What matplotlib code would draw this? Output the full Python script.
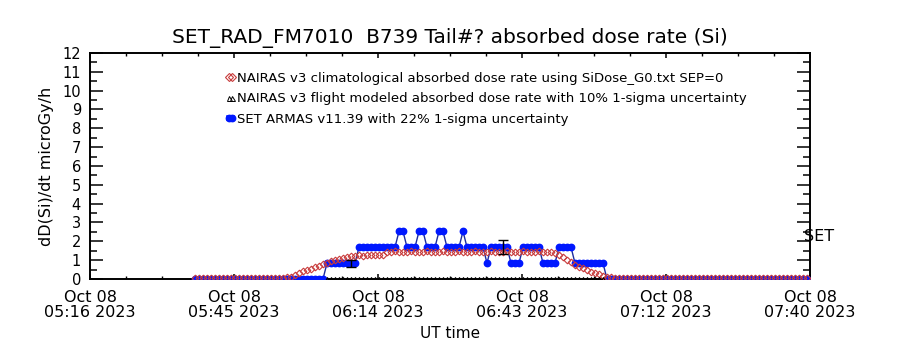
import numpy as np
import matplotlib
matplotlib.use("Agg")
import matplotlib.pyplot as plt
from matplotlib.lines import Line2D
from matplotlib.ticker import FixedLocator, MultipleLocator

plt.rcParams["font.family"] = ["DejaVu Sans"]

# ---------------- data ----------------
title = "SET_RAD_FM7010  B739 Tail#? absorbed dose rate (Si)"
ylabel = "dD(Si)/dt microGy/h"
xlabel = "UT time"
xtick_labels = ["Oct 08\n05:16 2023", "Oct 08\n05:45 2023", "Oct 08\n06:14 2023",
                "Oct 08\n06:43 2023", "Oct 08\n07:12 2023", "Oct 08\n07:40 2023"]
x_span_min = 144.0          # minutes shown after 05:16 UT
start_min = 21.0            # first sample, minutes after 05:16 UT
step_min = 0.8              # sample cadence (minutes)

legend_labels = [
    "NAIRAS v3 climatological absorbed dose rate using SiDose_G0.txt SEP=0",
    "NAIRAS v3 flight modeled absorbed dose rate with 10% 1-sigma uncertainty",
    "SET ARMAS v11.39 with 22% 1-sigma uncertainty",
]

armas = [
    0, 0, 0, 0, 0, 0, 0, 0, 0, 0, 0,
    0, 0, 0, 0, 0, 0, 0, 0, 0, 0, 0,
    0, 0, 0, 0, 0, 0, 0, 0, 0, 0, 0,
    0.84, 0.84, 0.84, 0.84, 0.84, 0.84, 0.84, 0.84,
    1.69, 1.69, 1.69, 1.69, 1.69, 1.69, 1.69, 1.69, 1.69, 1.69,
    2.53, 2.53,
    1.69, 1.69, 1.69,
    2.53, 2.53,
    1.69, 1.69, 1.69,
    2.53, 2.53,
    1.69, 1.69, 1.69, 1.69,
    2.53,
    1.69, 1.69, 1.69, 1.69, 1.69,
    0.84,
    1.69, 1.69, 1.69, 1.69, 1.69,
    0.84, 0.84, 0.84,
    1.69, 1.69, 1.69, 1.69, 1.69,
    0.84, 0.84, 0.84, 0.84,
    1.69, 1.69, 1.69, 1.69,
    0.84, 0.84, 0.84, 0.84, 0.84, 0.84, 0.84, 0.84,
    0, 0, 0, 0, 0, 0, 0, 0, 0, 0,
    0, 0, 0, 0, 0, 0, 0, 0, 0, 0,
    0, 0, 0, 0, 0, 0, 0, 0, 0, 0,
    0, 0, 0, 0, 0, 0, 0, 0, 0, 0,
    0, 0, 0, 0, 0, 0, 0, 0, 0, 0,
    0,
]

nairas_clim = [
    0.05, 0.05, 0.05, 0.05, 0.05, 0.05, 0.05, 0.05, 0.05, 0.05, 0.05, 0.05,
    0.05, 0.05, 0.05, 0.05, 0.05, 0.05, 0.05, 0.05, 0.05, 0.05, 0.06, 0.08,
    0.12, 0.20, 0.30, 0.40, 0.48, 0.55, 0.62, 0.70, 0.78, 0.85, 0.93, 1.00,
    1.08, 1.13, 1.18, 1.22,
    1.24, 1.25, 1.24, 1.25, 1.26, 1.25, 1.27, 1.30,
    1.44, 1.45, 1.46, 1.45, 1.44, 1.45, 1.46, 1.45, 1.44, 1.45, 1.46,
    1.45, 1.44, 1.45, 1.46, 1.45, 1.44, 1.45, 1.46, 1.45, 1.44, 1.45,
    1.46, 1.45, 1.44, 1.45, 1.46, 1.45, 1.44, 1.45, 1.46, 1.45, 1.44,
    1.45, 1.46, 1.45, 1.44, 1.45, 1.46, 1.45, 1.44, 1.42, 1.40,
    1.30, 1.15, 1.00, 0.88, 0.76, 0.66, 0.56, 0.47, 0.38, 0.30, 0.24,
    0.18, 0.12,
    0.08, 0.06, 0.05, 0.05, 0.05, 0.05, 0.05, 0.05, 0.05, 0.05,
    0.05, 0.05, 0.05, 0.05, 0.05, 0.05, 0.05, 0.05, 0.05, 0.05,
    0.05, 0.05, 0.05, 0.05, 0.05, 0.05, 0.05, 0.05, 0.05, 0.05,
    0.05, 0.05, 0.05, 0.05, 0.05, 0.05, 0.05, 0.05, 0.05, 0.05,
    0.05, 0.05, 0.05, 0.05, 0.05, 0.05, 0.05, 0.05, 0.05, 0.05,
]

flight_first_idx = 33
flight_model = [
    0, 0, 0, 0, 0, 0, 0, 0, 0, 0,
    0, 0, 0, 0, 0, 0, 0, 0, 0, 0,
    0, 0, 0, 0, 0, 0, 0, 0, 0, 0,
    0, 0, 0, 0, 0, 0, 0, 0, 0, 0,
    0, 0, 0, 0, 0, 0, 0, 0, 0, 0,
    0, 0, 0, 0, 0, 0, 0, 0, 0, 0,
    0, 0, 0, 0, 0, 0, 0, 0, 0, 0,
]

err_idx = [39, 77]
armas_err_frac = 0.22

# ---------------- derived ----------------
armas = np.array(armas, dtype=float)
nairas_clim = np.array(nairas_clim, dtype=float)
t = start_min + step_min * np.arange(len(armas))
t_flight = t[flight_first_idx:flight_first_idx + len(flight_model)]

# ---------------- figure ----------------
fig = plt.figure(figsize=(9, 3.5), dpi=100)
ax = fig.add_axes([0.1, 0.2029, 0.8, 0.6457])

blue_line, = ax.plot(t, armas, color="#1c2ca0", lw=1.0, marker="o", ms=4.6,
                     mfc="#0018ff", mec="#0018ff", zorder=3)
red_line, = ax.plot(t, nairas_clim, ls="none", marker="D", ms=3.4, mfc="none",
                    mec="#c83c3c", mew=0.8, zorder=4)
blk_line, = ax.plot(t_flight, flight_model, ls="none", marker="^", ms=3.0,
                    color="black", mfc="none", mew=0.7, zorder=5)
ax.errorbar(t[err_idx], armas[err_idx], yerr=armas_err_frac * armas[err_idx],
            fmt="none", ecolor="black", elinewidth=1.0, capsize=3.5, capthick=1.0,
            zorder=6)

ax.set_xlim(0, x_span_min)
ax.set_ylim(0, 12)
ax.xaxis.set_major_locator(FixedLocator(np.linspace(0, x_span_min, len(xtick_labels))))
ax.xaxis.set_minor_locator(MultipleLocator(x_span_min / 20))
ax.set_xticklabels(xtick_labels, fontsize=11.5, linespacing=1.0)
ax.yaxis.set_major_locator(MultipleLocator(1))
ax.yaxis.set_minor_locator(MultipleLocator(0.5))
ax.tick_params(axis="y", which="major", direction="in", length=9.5, width=1.1,
               left=True, right=True, labelsize=10.5, pad=6.5)
ax.tick_params(axis="y", which="minor", direction="in", length=5, width=1.1,
               left=True, right=True)
ax.tick_params(axis="x", which="major", direction="in", length=3.6, width=1.1,
               top=True, bottom=True, pad=8)
ax.tick_params(axis="x", which="minor", direction="in", length=2.0, width=1.0,
               top=True, bottom=True)
for s in ax.spines.values():
    s.set_linewidth(1.4)

ax.set_title(title, fontsize=14.5, pad=7)
ax.set_ylabel(ylabel, fontsize=11.5, labelpad=6)
ax.set_xlabel(xlabel, fontsize=11, labelpad=4)

ax.text(0.991, 2.24 / 12, "SET", transform=ax.transAxes, ha="left", va="center",
        fontsize=11.5, clip_on=False)

h_red = Line2D([], [], ls="none", marker="D", ms=3.6, mfc="none", mec="#c83c3c", mew=0.8)
h_blk = Line2D([], [], ls="none", marker="^", ms=3.6, mfc="none", mec="black", mew=0.7)
h_blue = Line2D([], [], color="#0018ff", lw=4, marker="o", ms=4.6, mfc="#0018ff", mec="#0018ff")
leg = fig.legend([h_red, h_blk, h_blue], legend_labels, loc="upper left",
                 bbox_to_anchor=(0.250, 0.795), frameon=False, fontsize=9.5,
                 numpoints=2, handlelength=0.8, handletextpad=0.1,
                 labelspacing=0.58, borderpad=0, borderaxespad=0)

fig.savefig("out.png", dpi=100, facecolor="white")
